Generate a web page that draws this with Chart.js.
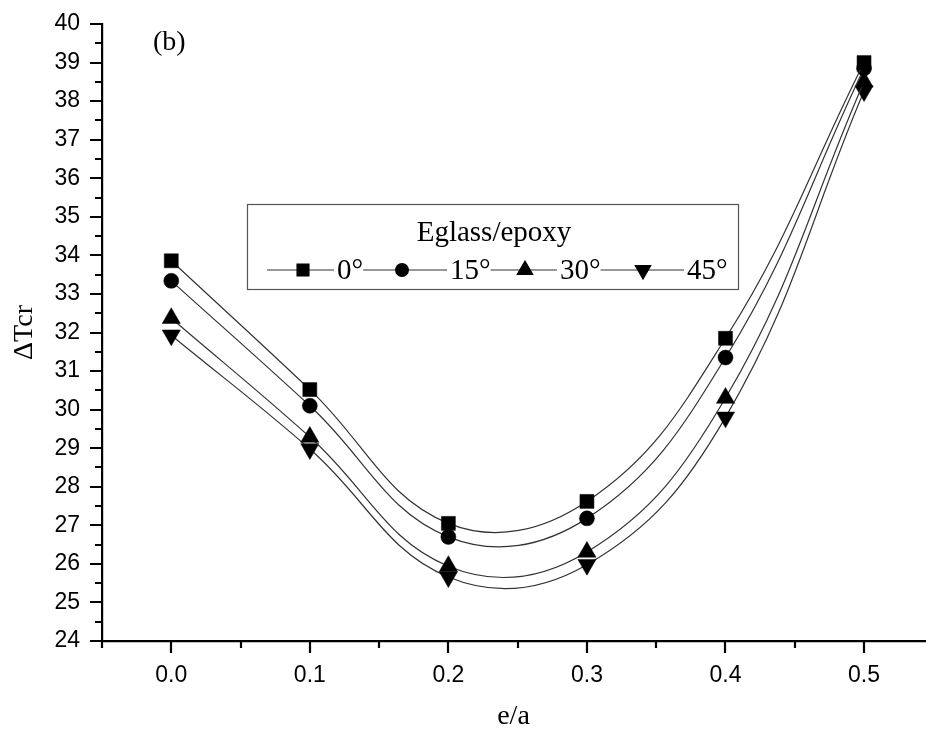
<!DOCTYPE html>
<html>
<head>
<meta charset="utf-8">
<script src="https://cdn.jsdelivr.net/npm/chart.js@4/dist/chart.umd.min.js"></script>
<style>
  html, body { margin: 0; padding: 0; background: #fff; overflow: hidden; }
  #wrap { width: 936px; height: 735px; }
</style>
</head>
<body>
<div id="wrap"><canvas id="chart" width="936" height="735"></canvas></div>
<script>
/* e/a values on the x axis */
var ratios = [0.0, 0.1, 0.2, 0.3, 0.4, 0.5];

/* delta Tcr for each fibre angle */
var angle0 = [33.86, 30.52, 27.05, 27.62, 31.85, 39.0];
var angle15 = [33.34, 30.1, 26.7, 27.18, 31.35, 38.85];
var angle30 = [32.37, 29.29, 25.94, 26.31, 30.3, 38.5];
var angle45 = [31.93, 28.98, 25.66, 25.98, 29.8, 38.26];

var seriesLabels = ["0\u00b0", "15\u00b0", "30\u00b0", "45\u00b0"];

/* tick positions */
var xMajor = [0.0, 0.1, 0.2, 0.3, 0.4, 0.5];
var xMinor = [-0.05, 0.05, 0.15, 0.25, 0.35, 0.45];
var yMajor = [24, 25, 26, 27, 28, 29, 30, 31, 32, 33, 34, 35, 36, 37, 38, 39, 40];
var yMinor = [24.5, 25.5, 26.5, 27.5, 28.5, 29.5, 30.5, 31.5, 32.5, 33.5, 34.5, 35.5, 36.5, 37.5, 38.5, 39.5];

var serif = "'Liberation Serif', 'Times New Roman', serif";
var sans = "'Liberation Sans', Arial, sans-serif";

function toPoints(vals) {
  var pts = [];
  for (var i = 0; i < ratios.length; i++) {
    pts.push({ x: ratios[i], y: vals[i] });
  }
  return pts;
}

function makeSet(label, vals, style, radius, rotation) {
  return {
    label: label,
    data: toPoints(vals),
    borderColor: "#333",
    borderWidth: 1.2,
    tension: 0.4,
    pointStyle: style,
    pointRadius: radius,
    pointHoverRadius: radius,
    pointRotation: rotation,
    pointBackgroundColor: "#000",
    pointBorderColor: "#000",
    pointBorderWidth: 0.5,
    showLine: true,
    fill: false,
  };
}

/* outward major/minor tick marks, drawn from the scales */
var tickMarks = {
  id: "tickMarks",
  afterDraw: function (chart) {
    var ctx = chart.ctx;
    var xs = chart.scales.x;
    var ys = chart.scales.y;
    var area = chart.chartArea;
    ctx.save();
    ctx.strokeStyle = "#000";
    ctx.lineWidth = 2.2;
    ctx.beginPath();
    xMajor.forEach(function (v) {
      var px = Math.round(xs.getPixelForValue(v));
      ctx.moveTo(px, area.bottom);
      ctx.lineTo(px, area.bottom + 12);
    });
    xMinor.forEach(function (v) {
      var px = Math.round(xs.getPixelForValue(v));
      ctx.moveTo(px, area.bottom);
      ctx.lineTo(px, area.bottom + 7);
    });
    yMajor.forEach(function (v) {
      var py = Math.round(ys.getPixelForValue(v));
      ctx.moveTo(area.left, py);
      ctx.lineTo(area.left - 12, py);
    });
    yMinor.forEach(function (v) {
      var py = Math.round(ys.getPixelForValue(v));
      ctx.moveTo(area.left, py);
      ctx.lineTo(area.left - 7, py);
    });
    ctx.stroke();

    /* panel tag */
    ctx.fillStyle = "#000";
    ctx.font = "28px " + serif;
    ctx.textAlign = "left";
    ctx.textBaseline = "alphabetic";
    ctx.fillText("(b)", 153, 50);
    ctx.restore();
  },
};

/* boxed legend with title, like the original */
var markerX = [303, 402, 525, 643];
var labelX = [337, 450, 560, 687];

var boxLegend = {
  id: "boxLegend",
  afterDraw: function (chart) {
    var ctx = chart.ctx;
    ctx.save();
    ctx.fillStyle = "#fff";
    ctx.fillRect(247, 204, 491, 85);
    ctx.strokeStyle = "#555";
    ctx.lineWidth = 1.2;
    ctx.strokeRect(247.5, 204.5, 491, 85);

    ctx.fillStyle = "#000";
    ctx.font = "29px " + serif;
    ctx.textAlign = "center";
    ctx.textBaseline = "alphabetic";
    ctx.fillText("Eglass/epoxy", 494, 241);

    var rowY = 270;
    var lineStart = 267;
    ctx.textAlign = "left";
    chart.data.datasets.forEach(function (ds, i) {
      ctx.strokeStyle = "#333";
      ctx.lineWidth = 1.2;
      ctx.beginPath();
      ctx.moveTo(lineStart, rowY);
      ctx.lineTo(labelX[i] - 3, rowY);
      ctx.stroke();
      ctx.fillStyle = "#000";
      ctx.strokeStyle = "#000";
      Chart.helpers.drawPoint(ctx, {
        pointStyle: ds.pointStyle,
        radius: ds.pointRadius * 0.85,
        rotation: ds.pointRotation,
        borderWidth: 0.5,
      }, markerX[i], rowY);
      ctx.fillText(ds.label, labelX[i], 279);
      lineStart = labelX[i] + ctx.measureText(ds.label).width;
    });
    ctx.restore();
  },
};

var ctx = document.getElementById("chart");

var myChart = new Chart(ctx, {
  type: "scatter",
  data: {
    datasets: [
      makeSet(seriesLabels[0], angle0, "rect", 9.9, 0),
      makeSet(seriesLabels[1], angle15, "circle", 7.5, 0),
      makeSet(seriesLabels[2], angle30, "triangle", 10.5, 0),
      makeSet(seriesLabels[3], angle45, "triangle", 10.5, 180),
    ],
  },
  options: {
    responsive: false,
    animation: false,
    layout: { padding: { left: 0, top: 24, right: 0, bottom: 0 } },
    plugins: {
      legend: { display: false },
      tooltip: { enabled: false },
    },
    scales: {
      x: {
        type: "linear",
        min: -0.05,
        max: 0.544,
        afterBuildTicks: function (scale) {
          scale.ticks = xMajor.map(function (v) { return { value: v }; });
        },
        afterFit: function (scale) {
          scale.height = 94;
          scale.paddingLeft = 0;
          scale.paddingRight = 0;
        },
        grid: { display: false, drawTicks: false },
        border: { display: true, color: "#000", width: 2.2 },
        ticks: {
          color: "#000",
          padding: 21,
          maxRotation: 0,
          font: { family: sans, size: 23 },
          callback: function (v) { return Number(v).toFixed(1); },
        },
        title: {
          display: true,
          text: "e/a",
          color: "#000",
          font: { family: serif, size: 28 },
          padding: { top: 0, bottom: 2 },
        },
      },
      y: {
        type: "linear",
        min: 24,
        max: 40,
        afterBuildTicks: function (scale) {
          scale.ticks = yMajor.map(function (v) { return { value: v }; });
        },
        afterFit: function (scale) {
          scale.width = 102;
          scale.paddingTop = 0;
          scale.paddingBottom = 0;
        },
        grid: { display: false, drawTicks: false },
        border: { display: true, color: "#000", width: 2.2 },
        ticks: {
          color: "#000",
          padding: 22,
          font: { family: sans, size: 23 },
        },
        title: {
          display: true,
          text: "\u0394Tcr",
          color: "#000",
          font: { family: serif, size: 28 },
          padding: { top: 8, bottom: 0 },
        },
      },
    },
  },
  plugins: [tickMarks, boxLegend],
});
</script>
</body>
</html>
